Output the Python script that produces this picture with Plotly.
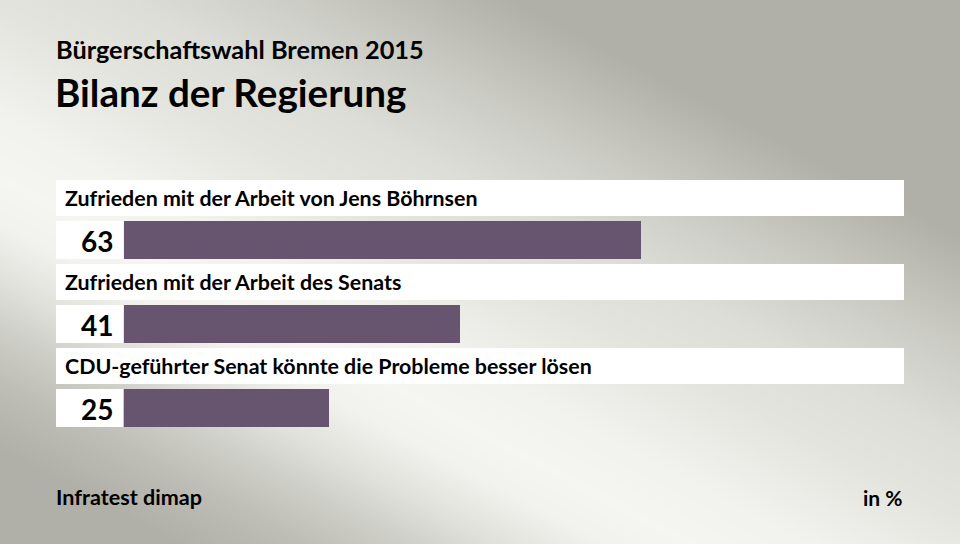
import base64, struct, zlib
import numpy as np
import plotly.graph_objects as go

# ---- data ----
categories = [
    "Zufrieden mit der Arbeit von Jens Böhrnsen",
    "Zufrieden mit der Arbeit des Senats",
    "CDU-geführter Senat könnte die Probleme besser lösen",
]
values = [63, 41, 25]
value_labels = ["63", "41", "25"]
supertitle = "Bürgerschaftswahl Bremen 2015"
title = "Bilanz der Regierung"
source = "Infratest dimap"
unit = "in %"

W, H = 960, 544
BAR_COLOR = "#67546F"
FONT = "Lato"

# ---- background gradient image (decoration) ----
def make_png(arr):
    h, w, _ = arr.shape
    raw = b"".join(b"\x00" + arr[i].tobytes() for i in range(h))
    def chunk(tag, data):
        c = struct.pack(">I", len(data)) + tag + data
        return c + struct.pack(">I", zlib.crc32(tag + data) & 0xFFFFFFFF)
    return (b"\x89PNG\r\n\x1a\n" + chunk(b"IHDR", struct.pack(">IIBBBBB", w, h, 8, 2, 0, 0, 0))
            + chunk(b"IDAT", zlib.compress(raw, 9)) + chunk(b"IEND", b""))

gw, gh, s = 240, 136, 4
xx, yy = np.meshgrid((np.arange(gw) + 0.5) * s, (np.arange(gh) + 0.5) * s)
d = (xx * -360 + (yy - 180) * 680) / 769.0
t_pos = np.interp(d, [0, 40, 90, 130, 180, 240], [0, 0.05, 0.3, 0.55, 0.8, 1.0])
t_neg = np.interp(-d, [0, 60, 150, 220, 300, 400], [0, 0.05, 0.25, 0.35, 0.6, 1.0])
t = np.where(d >= 0, t_pos, t_neg)
light = np.array([245, 246, 241], float)
dark = np.array([176, 176, 168], float)
img = (light[None, None, :] + (dark - light)[None, None, :] * t[..., None]).round().astype(np.uint8)
bg_uri = "data:image/png;base64," + base64.b64encode(make_png(img)).decode()

# ---- layout geometry (pixels) ----
first_center = 240
step = 84
bar_h = 38
centers = [first_center + i * step for i in range(len(values))]

fig = go.Figure()
fig.add_trace(go.Bar(
    x=values, y=centers, orientation="h", width=bar_h,
    marker=dict(color=BAR_COLOR, line=dict(width=0)),
    hoverinfo="skip", showlegend=False,
))

shapes = []
annotations = []
for i, (c, cat, lab) in enumerate(zip(centers, categories, value_labels)):
    band_c = c - 42
    shapes.append(dict(type="rect", xref="paper", yref="y", layer="below",
                       x0=56 / W, x1=904 / W, y0=band_c - 18, y1=band_c + 18,
                       fillcolor="white", line=dict(width=0)))
    shapes.append(dict(type="rect", xref="paper", yref="y", layer="below",
                       x0=56 / W, x1=123 / W, y0=c - bar_h / 2, y1=c + bar_h / 2,
                       fillcolor="white", line=dict(width=0)))
    annotations.append(dict(text=cat, xref="paper", yref="y", x=63 / W, y=band_c,
                            xanchor="left", yanchor="middle", showarrow=False,
                            font=dict(family=FONT, size=21.4, color="black", weight="bold")))
    annotations.append(dict(text=lab, xref="paper", yref="y", x=115 / W, y=c + 1,
                            xanchor="right", yanchor="middle", showarrow=False,
                            font=dict(family=FONT, size=28, color="black", weight="bold")))

annotations += [
    dict(text=supertitle, xref="paper", yref="paper", x=54 / W, y=1 - 49 / H,
         xanchor="left", yanchor="middle", showarrow=False,
         font=dict(family=FONT, size=25.3, color="black", weight="bold")),
    dict(text=title, xref="paper", yref="paper", x=53 / W, y=1 - 92 / H,
         xanchor="left", yanchor="middle", showarrow=False,
         font=dict(family=FONT, size=38.6, color="black", weight="bold")),
    dict(text=source, xref="paper", yref="paper", x=54 / W, y=1 - 497 / H,
         xanchor="left", yanchor="middle", showarrow=False,
         font=dict(family=FONT, size=21.6, color="black", weight="bold")),
    dict(text=unit, xref="paper", yref="paper", x=905 / W, y=1 - 497 / H,
         xanchor="right", yanchor="middle", showarrow=False,
         font=dict(family=FONT, size=21, color="black", weight="bold")),
]

fig.update_layout(
    width=W, height=H,
    margin=dict(l=0, r=0, t=0, b=0),
    paper_bgcolor="rgba(0,0,0,0)", plot_bgcolor="rgba(0,0,0,0)",
    xaxis=dict(range=[0, 100], domain=[124 / W, 944 / W], visible=False, fixedrange=True),
    yaxis=dict(range=[H, 0], domain=[0, 1], visible=False, fixedrange=True),
    shapes=shapes, annotations=annotations,
    images=[dict(source=bg_uri, xref="paper", yref="paper", x=0, y=1, sizex=1, sizey=1,
                 sizing="stretch", layer="below", xanchor="left", yanchor="top")],
    bargap=0,
)

fig.write_html("out.html",
               config={"displayModeBar": False, "staticPlot": True},
               post_script="document.body.style.margin='0';document.body.style.overflow='hidden';")
